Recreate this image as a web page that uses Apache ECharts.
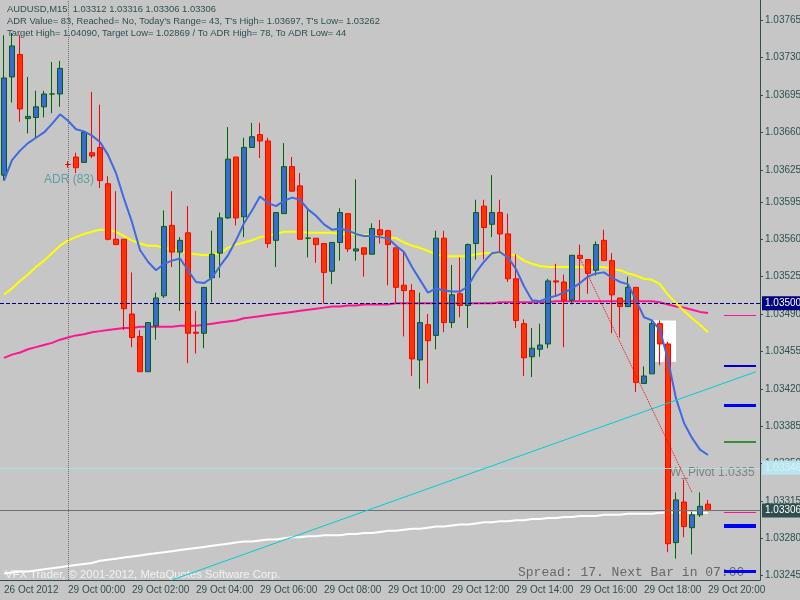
<!DOCTYPE html>
<html><head><meta charset="utf-8">
<script src="https://cdn.jsdelivr.net/npm/echarts@6/dist/echarts.min.js"></script>
<style>html,body{margin:0;padding:0;background:#c6c6c6}#c{width:800px;height:600px}</style>
</head><body><div id="c"></div>
<script>
const tickLabels = ["26 Oct 2012","29 Oct 00:00","29 Oct 02:00","29 Oct 04:00","29 Oct 06:00","29 Oct 08:00","29 Oct 10:00","29 Oct 12:00","29 Oct 14:00","29 Oct 16:00","29 Oct 18:00","29 Oct 20:00"];
const priceTicks = [1.03245,1.03280,1.03315,1.03350,1.03385,1.03420,1.03455,1.03490,1.03525,1.03560,1.03595,1.03625,1.03660,1.03695,1.03730,1.03765];
const opens = [1.03620,1.03712,1.03733,1.03673,1.03674,1.03684,1.03696,1.03696,1.03630,1.03637,1.03632,1.03641,1.03646,1.03612,1.03560,1.03560,1.03490,1.03469,1.03436,1.03479,1.03507,1.03573,1.03548,1.03566,1.03473,1.03472,1.03524,1.03547,1.03580,1.03637,1.03581,1.03646,1.03658,1.03652,1.03559,1.03584,1.03628,1.03610,1.03561,1.03561,1.03556,1.03530,1.03557,1.03584,1.03549,1.03552,1.03546,1.03569,1.03568,1.03552,1.03517,1.03512,1.03447,1.03480,1.03470,1.03561,1.03482,1.03509,1.03498,1.03556,1.03591,1.03574,1.03585,1.03565,1.03523,1.03481,1.03450,1.03457,1.03462,1.03521,1.03520,1.03503,1.03545,1.03541,1.03531,1.03559,1.03540,1.03505,1.03497,1.03515,1.03425,1.03434,1.03481,1.03462,1.03276,1.03314,1.03290,1.03302,1.03312];
const closes = [1.03711,1.03741,1.03682,1.03675,1.03684,1.03696,1.03696,1.03720,1.03630,1.03627,1.03660,1.03638,1.03615,1.03560,1.03555,1.03495,1.03468,1.03436,1.03482,1.03505,1.03572,1.03548,1.03559,1.03472,1.03472,1.03515,1.03546,1.03580,1.03635,1.03580,1.03646,1.03656,1.03652,1.03556,1.03585,1.03628,1.03605,1.03560,1.03561,1.03555,1.03529,1.03557,1.03585,1.03551,1.03551,1.03546,1.03570,1.03564,1.03555,1.03515,1.03512,1.03448,1.03482,1.03465,1.03561,1.03482,1.03508,1.03498,1.03555,1.03585,1.03571,1.03585,1.03565,1.03523,1.03484,1.03449,1.03458,1.03461,1.03521,1.03520,1.03503,1.03545,1.03542,1.03528,1.03555,1.03540,1.03508,1.03497,1.03515,1.03426,1.03432,1.03481,1.03462,1.03275,1.03316,1.03291,1.03302,1.03310,1.03306];
const lows = [1.03615,1.03688,1.03670,1.03659,1.03655,1.03674,1.03678,1.03684,1.03627,1.03622,1.03632,1.03636,1.03608,1.03559,1.03555,1.03475,1.03459,1.03436,1.03436,1.03466,1.03505,1.03534,1.03493,1.03444,1.03453,1.03458,1.03501,1.03524,1.03579,1.03573,1.03562,1.03646,1.03636,1.03552,1.03534,1.03584,1.03605,1.03560,1.03543,1.03538,1.03500,1.03518,1.03540,1.03548,1.03540,1.03525,1.03546,1.03556,1.03517,1.03500,1.03469,1.03432,1.03420,1.03425,1.03457,1.03473,1.03477,1.03487,1.03477,1.03541,1.03541,1.03562,1.03547,1.03520,1.03477,1.03432,1.03431,1.03450,1.03458,1.03506,1.03459,1.03499,1.03503,1.03509,1.03526,1.03540,1.03472,1.03468,1.03497,1.03417,1.03425,1.03434,1.03442,1.03267,1.03261,1.03281,1.03265,1.03300,1.03306];
const highs = [1.03751,1.03753,1.03751,1.03712,1.03699,1.03699,1.03726,1.03727,1.03633,1.03641,1.03660,1.03698,1.03686,1.03619,1.03605,1.03560,1.03529,1.03475,1.03482,1.03510,1.03587,1.03605,1.03562,1.03591,1.03493,1.03515,1.03568,1.03585,1.03665,1.03637,1.03655,1.03669,1.03669,1.03655,1.03585,1.03650,1.03637,1.03622,1.03589,1.03561,1.03556,1.03557,1.03589,1.03584,1.03616,1.03552,1.03575,1.03578,1.03569,1.03552,1.03548,1.03518,1.03510,1.03490,1.03568,1.03568,1.03536,1.03543,1.03556,1.03597,1.03597,1.03620,1.03597,1.03584,1.03546,1.03485,1.03477,1.03481,1.03523,1.03537,1.03527,1.03545,1.03555,1.03541,1.03558,1.03569,1.03547,1.03505,1.03525,1.03515,1.03441,1.03484,1.03484,1.03464,1.03323,1.03335,1.03305,1.03323,1.03316];
const maBlue = [1.03615,1.03634,1.03643,1.03650,1.03655,1.03660,1.03668,1.03677,1.03671,1.03663,1.03661,1.03657,1.03651,1.03639,1.03622,1.03598,1.03576,1.03550,1.03539,1.03531,1.03537,1.03540,1.03542,1.03531,1.03520,1.03519,1.03524,1.03535,1.03545,1.03559,1.03575,1.03587,1.03600,1.03594,1.03591,1.03596,1.03599,1.03597,1.03588,1.03582,1.03574,1.03569,1.03570,1.03568,1.03565,1.03563,1.03563,1.03562,1.03561,1.03554,1.03548,1.03534,1.03522,1.03510,1.03514,1.03512,1.03511,1.03511,1.03516,1.03529,1.03539,1.03547,1.03548,1.03543,1.03532,1.03516,1.03503,1.03502,1.03505,1.03507,1.03510,1.03514,1.03519,1.03525,1.03528,1.03529,1.03524,1.03520,1.03518,1.03503,1.03487,1.03484,1.03475,1.03447,1.03411,1.03388,1.03374,1.03363,1.03358];
const maYellow = [1.03508,1.03514,1.03521,1.03527,1.03534,1.03540,1.03547,1.03554,1.03559,1.03562,1.03565,1.03567,1.03569,1.03569,1.03567,1.03563,1.03559,1.03556,1.03554,1.03554,1.03552,1.03551,1.03549,1.03547,1.03546,1.03545,1.03546,1.03547,1.03552,1.03555,1.03557,1.03559,1.03562,1.03563,1.03565,1.03567,1.03567,1.03567,1.03566,1.03566,1.03566,1.03566,1.03565,1.03565,1.03565,1.03564,1.03564,1.03563,1.03562,1.03561,1.03557,1.03554,1.03552,1.03549,1.03546,1.03544,1.03544,1.03544,1.03544,1.03546,1.03547,1.03547,1.03547,1.03546,1.03545,1.03540,1.03537,1.03535,1.03534,1.03534,1.03534,1.03534,1.03534,1.03534,1.03534,1.03534,1.03532,1.03531,1.03528,1.03526,1.03523,1.03522,1.03518,1.03508,1.03500,1.03493,1.03486,1.03480,1.03473];
const maPink = [1.03449,1.03452,1.03454,1.03457,1.03459,1.03461,1.03463,1.03466,1.03468,1.03470,1.03471,1.03473,1.03474,1.03475,1.03476,1.03477,1.03477,1.03478,1.03478,1.03478,1.03478,1.03478,1.03479,1.03479,1.03479,1.03480,1.03481,1.03482,1.03483,1.03484,1.03486,1.03487,1.03488,1.03489,1.03490,1.03491,1.03492,1.03493,1.03494,1.03495,1.03496,1.03497,1.03497,1.03498,1.03498,1.03499,1.03499,1.03499,1.03499,1.03500,1.03500,1.03500,1.03500,1.03500,1.03500,1.03500,1.03500,1.03500,1.03500,1.03500,1.03500,1.03500,1.03501,1.03501,1.03501,1.03501,1.03501,1.03501,1.03501,1.03502,1.03502,1.03502,1.03502,1.03502,1.03502,1.03502,1.03502,1.03502,1.03502,1.03502,1.03502,1.03502,1.03501,1.03499,1.03497,1.03496,1.03494,1.03492,1.03491];
const vwapWhite = [1.03247,1.03248,1.03249,1.03249,1.03250,1.03251,1.03252,1.03253,1.03254,1.03255,1.03256,1.03257,1.03259,1.03260,1.03261,1.03262,1.03263,1.03264,1.03265,1.03266,1.03267,1.03268,1.03269,1.03270,1.03271,1.03272,1.03273,1.03274,1.03275,1.03276,1.03277,1.03277,1.03278,1.03279,1.03279,1.03280,1.03281,1.03281,1.03282,1.03282,1.03283,1.03283,1.03283,1.03284,1.03284,1.03285,1.03285,1.03286,1.03287,1.03287,1.03288,1.03289,1.03289,1.03290,1.03291,1.03291,1.03292,1.03293,1.03293,1.03294,1.03295,1.03295,1.03296,1.03296,1.03297,1.03297,1.03298,1.03298,1.03299,1.03299,1.03300,1.03300,1.03301,1.03301,1.03301,1.03302,1.03302,1.03302,1.03303,1.03303,1.03303,1.03303,1.03304,1.03304,1.03304,1.03304,1.03304,1.03304,1.03304];
const levelPrices = [1.03489,1.03442,1.03405,1.03370,1.03304,1.03292,1.03249];
const levelColors = ['#ff1493','#0000cd','#0000ff','#008000','#ff1493','#0000ff','#0000ff'];
const levelWidths = [1,2,3,1.5,1,4,3];
const adrLevel = 1.03500, bidLevel = 1.03306, pivotLevel = 1.03346;

const N = 95;
const cats = Array.from({length:N},(_,i)=>String(i));
const candleData = opens.map((o,i)=>[o,closes[i],lows[i],highs[i]]);
const seg = (p,c,w)=>[{coord:[90,p],lineStyle:{color:c,width:w,type:'solid'}},{coord:[94,p]}];
const hl = (p,col,type,bg,tc)=>[{yAxis:p,x:0,lineStyle:{color:col,type:type,width:1},label:{show:true,position:'end',formatter:p.toFixed(5),backgroundColor:bg,color:tc,padding:[2,3],fontSize:10,fontFamily:'Liberation Sans',distance:2}},{yAxis:p,x:760}];

const chart = echarts.init(document.getElementById('c'));
chart.setOption({
  animation:false,
  backgroundColor:'#c6c6c6',
  grid:{left:0,right:40,top:0,bottom:20,containLabel:false,outerBoundsMode:'none'},
  xAxis:{type:'category',data:cats,boundaryGap:true,
    axisLine:{lineStyle:{color:'#2f4f4f'}},
    axisTick:{interval:(i)=>i%8===0,length:4,lineStyle:{color:'#2f4f4f'},alignWithLabel:true},
    axisLabel:{interval:(i)=>i%8===0 && i/8<tickLabels.length,formatter:(v,i)=>tickLabels[i/8]||'',align:'left',color:'#2f4f4f',fontSize:10,fontFamily:'Liberation Sans',margin:5},
    splitLine:{show:false}},
  yAxis:{type:'value',position:'right',min:1.03241,max:1.03784,scale:true,
    axisLine:{show:true,lineStyle:{color:'#2f4f4f'}},
    axisTick:{show:true,customValues:priceTicks,length:3,lineStyle:{color:'#2f4f4f'}},
    axisLabel:{customValues:priceTicks,formatter:(v)=>v.toFixed(5),color:'#2f4f4f',fontSize:10,fontFamily:'Liberation Sans',margin:5},
    splitLine:{show:false}},
  series:[
    {type:'line',data:vwapWhite,symbol:'none',lineStyle:{color:'#ffffff',width:2},z:2},
    {type:'line',data:maPink,symbol:'none',lineStyle:{color:'#ff1493',width:2},z:2},
    {type:'line',data:maYellow,symbol:'none',lineStyle:{color:'#ffff00',width:2},z:2},
    {type:'candlestick',data:candleData,barWidth:5,z:3,
      itemStyle:{color:'#3a6ad8',color0:'#ff3300',borderColor:'#006400',borderColor0:'#ff0000',borderWidth:1},
      markArea:{silent:true,itemStyle:{color:'#ffffff'},data:[[{coord:[81,1.03484]},{coord:[84,1.03445]}]]},
      markLine:{silent:true,symbol:'none',animation:false,label:{show:false},
        data:[
          hl(adrLevel,'#000080','dashed','#000080','#ffffff'),
          hl(bidLevel,'#707070','solid','#2f4f4f','#ffffff'),
          hl(pivotLevel,'#b0e0e6','solid','#b8e4ee','#d8f2f8'),
          [{xAxis:8,yAxis:1.03241,lineStyle:{color:'#707070',type:'dotted',width:1}},{xAxis:8,yAxis:1.03784}],
          [{coord:[21,1.03241],lineStyle:{color:'#00ced1',width:1,type:'solid'}},{coord:[94,1.03436]}],
          [{coord:[72,1.03542],lineStyle:{color:'#ff0000',width:1,type:'dotted'}},{coord:[86,1.03323]}],
          ...levelPrices.map((p,i)=>seg(p,levelColors[i],levelWidths[i]))
        ]}},
    {type:'line',data:maBlue,symbol:'none',lineStyle:{color:'#4169e1',width:2},z:4}
  ],
  graphic:[
    {type:'text',left:7,top:5,style:{text:'AUDUSD,M15  1.03312 1.03316 1.03306 1.03306',fill:'#2f4f4f',font:'9.4px "Liberation Sans"'}},
    {type:'text',left:7,top:17,style:{text:"ADR Value= 83, Reached= No, Today's Range= 43, T's High= 1.03697, T's Low= 1.03262",fill:'#2f4f4f',font:'9.4px "Liberation Sans"'}},
    {type:'text',left:7,top:29,style:{text:'Target High= 1.04090, Target Low= 1.02869 / To ADR High= 78, To ADR Low= 44',fill:'#2f4f4f',font:'9.4px "Liberation Sans"'}},
    {type:'text',left:44,top:174,style:{text:'ADR (83)',fill:'#5f9ea0',font:'12px "Liberation Sans"'}},
    {type:'text',left:670,top:467,style:{text:'W_Pivot 1.0335',fill:'#808080',font:'12px "Liberation Sans"'}},
    {type:'text',left:518,top:566,style:{text:'Spread: 17. Next Bar in 07:00',fill:'#686868',font:'13px "Liberation Mono"'}},
    {type:'text',left:5,top:569,style:{text:'VFX Trader, © 2001-2012, MetaQuotes Software Corp.',fill:'#f2f2f2',font:'11.3px "Liberation Sans"'}}
  ]
});
</script></body></html>
